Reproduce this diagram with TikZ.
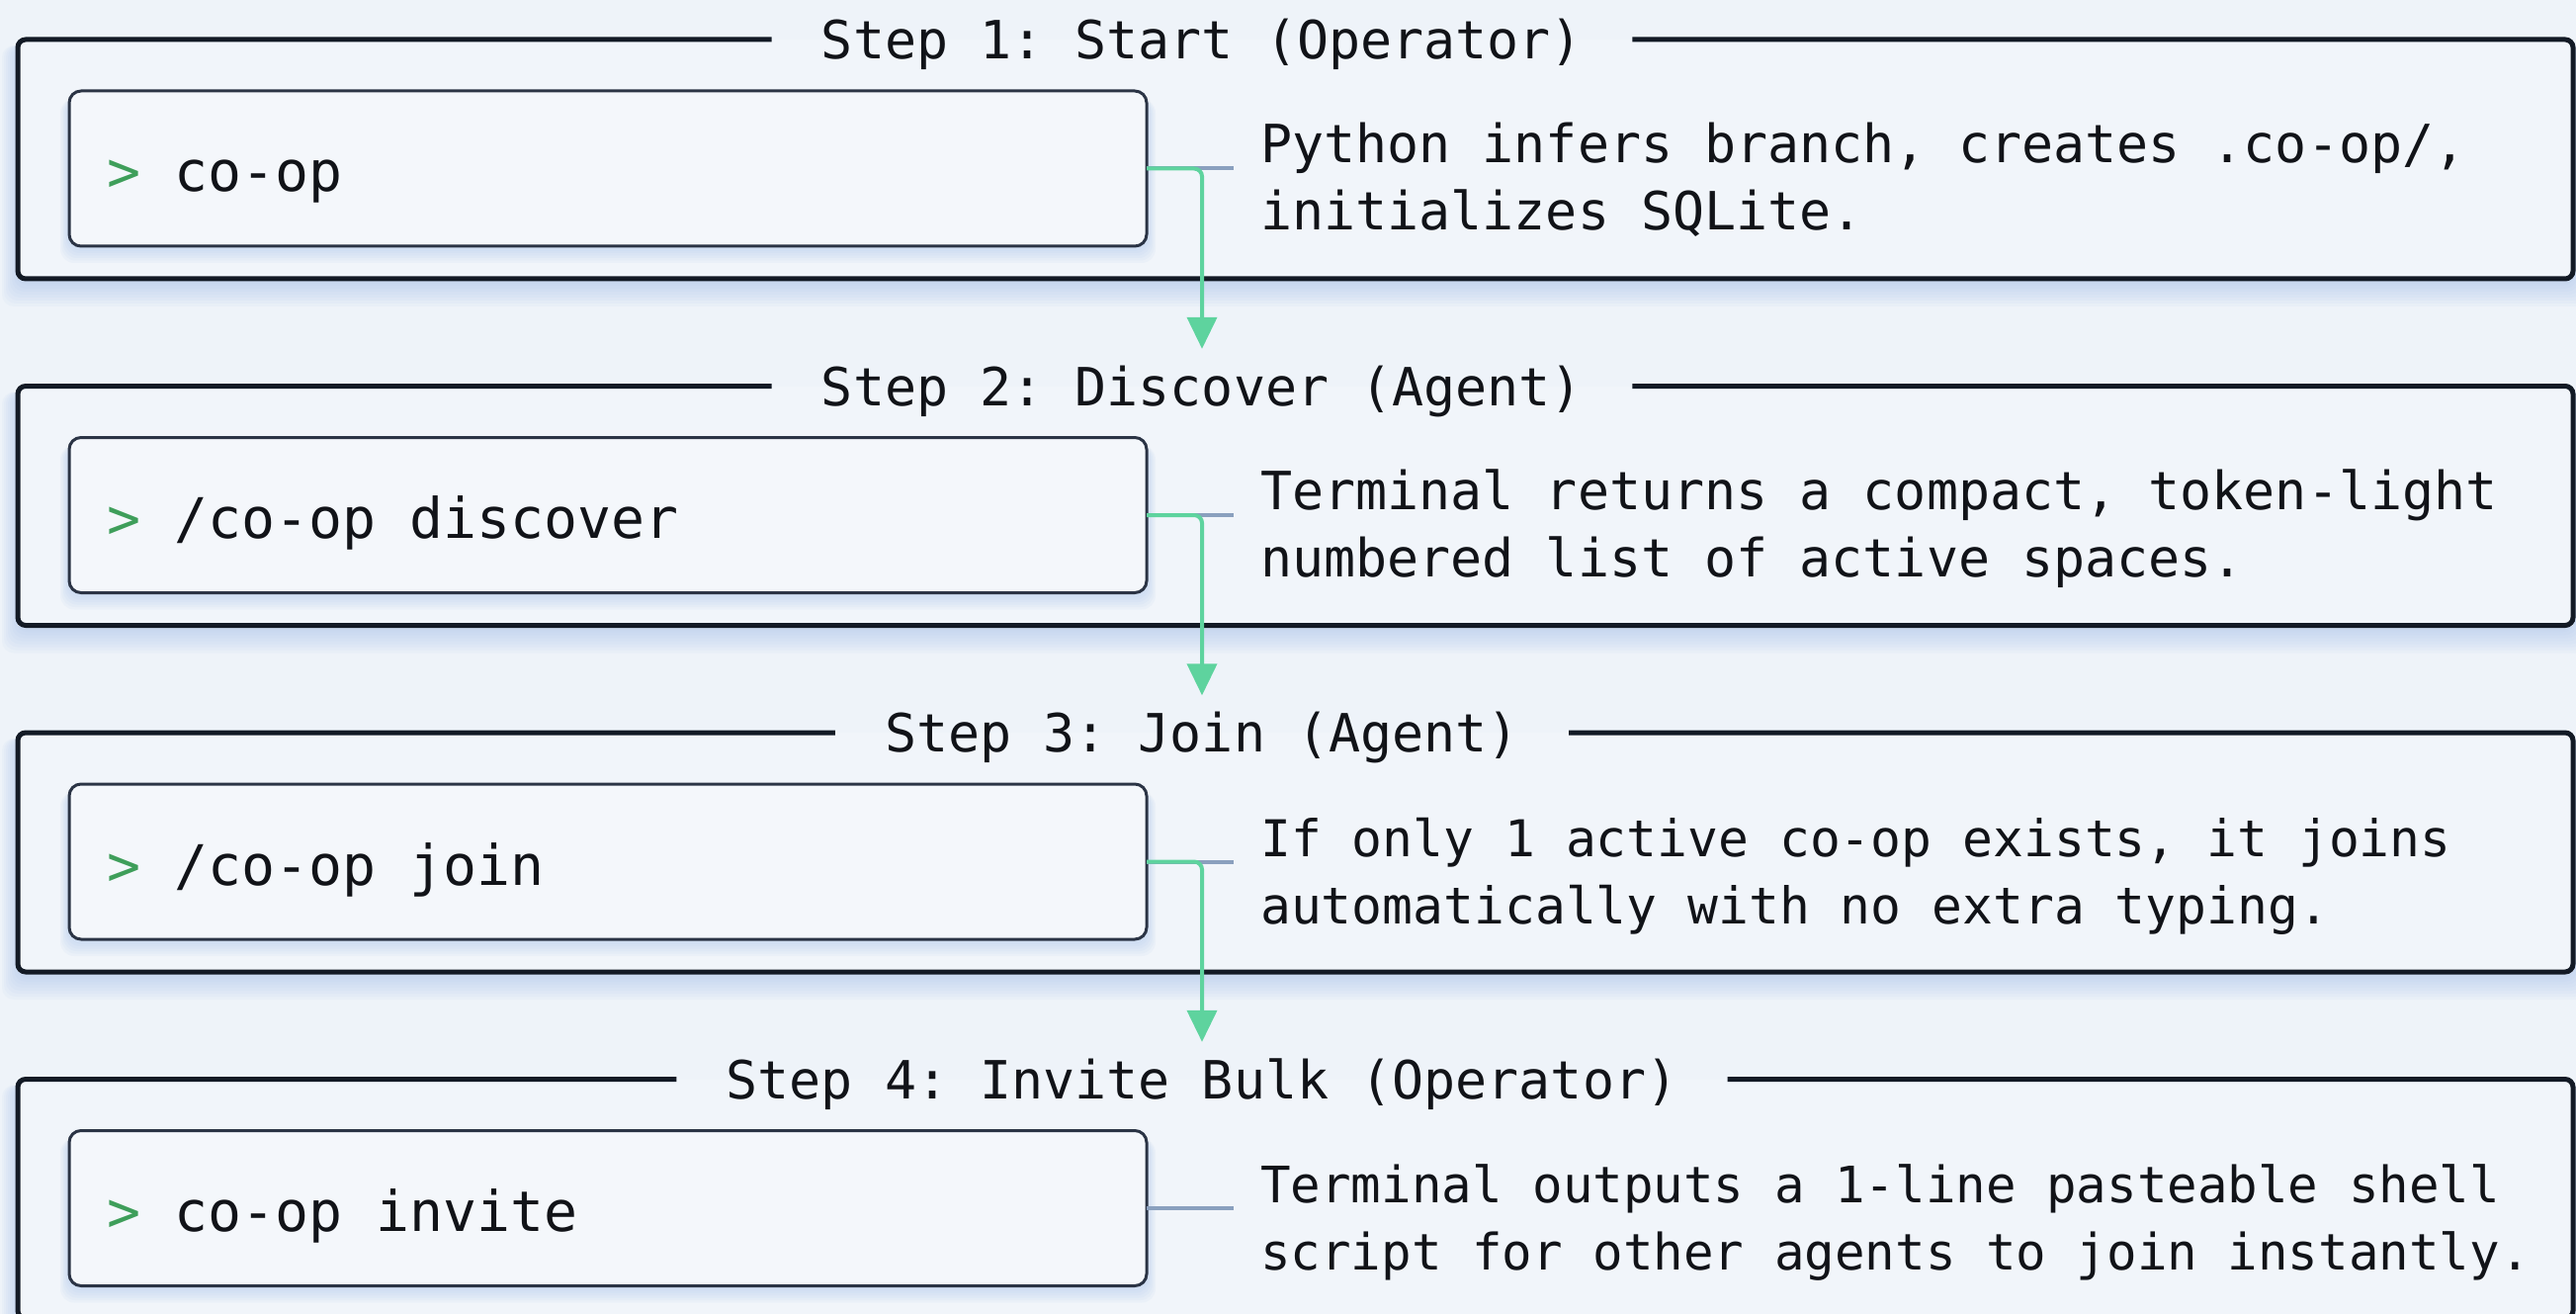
\documentclass[tikz,border=0pt]{standalone}
\usepackage{fontspec}
\setmonofont{DejaVu Sans Mono}
\usetikzlibrary{arrows.meta}

\definecolor{bgcol}{HTML}{EEF3F9}
\definecolor{framefill}{HTML}{F1F5FA}
\definecolor{cmdfill}{HTML}{F4F7FB}
\definecolor{framecol}{HTML}{131A25}
\definecolor{cmdcol}{HTML}{2B3445}
\definecolor{promptgreen}{HTML}{3E9E5A}
\definecolor{flowgreen}{HTML}{5ED39E}
\definecolor{stubcol}{HTML}{8AA0BE}
\definecolor{shadowcol}{HTML}{A9C4EC}
\definecolor{inkcol}{HTML}{111318}

\tikzset{
  frame/.style={inner sep=0pt, outer sep=0pt, fill=framefill,
    minimum width=2585pt, minimum height=242pt},
  framestroke/.style={draw=framecol, line width=5pt, rounded corners=8pt},
  titletext/.style={inner xsep=50pt, inner ysep=0pt, text height=39pt,
    text depth=0pt, text=inkcol,
    font=\ttfamily\fontsize{53.3}{64}\selectfont},
  cmdbox/.style={draw=cmdcol, line width=3pt, fill=cmdfill,
    rounded corners=12pt, inner sep=0pt, outer sep=0pt,
    minimum width=1090pt, minimum height=157pt},
  cmdtext/.style={inner sep=0pt, text=inkcol, anchor=base west,
    font=\ttfamily\fontsize{56.5}{68}\selectfont},
  desctext/.style={inner sep=0pt, text=inkcol, anchor=base west},
  stub/.style={draw=stubcol, line width=4pt},
  flow/.style={draw=flowgreen, line width=4pt, rounded corners=8pt,
    shorten >=18pt, -{Triangle[length=32pt,width=30pt]}},
}

% One step: index, top edge, title, command, two description lines,
% size of the description type
\newcommand\stepblock[7]{%
  \foreach \k in {1,...,8}{%
    \fill[shadowcol, opacity=0.08, rounded corners=12pt]
      (18-\k*2, #2+6) rectangle (2603+\k*2, #2+246+\k*3);}
  \node[frame] (f#1) at (1310.5, #2+121) {};
  \node[titletext] (t#1) at (1216, #2) {#3};
  \draw[framestroke] (t#1.west) -| (f#1.south west) -| (f#1.north east) -- (t#1.east);
  \foreach \k in {1,...,6}{%
    \fill[shadowcol, opacity=0.09, rounded corners=14pt]
      (70-\k*1.5, #2+60) rectangle (1160+\k*1.5, #2+211+\k*2.5);}
  \node[cmdbox] (c#1) at (615, #2+130.5) {};
  \node[cmdtext] (p#1) at (108, #2+154) {\textcolor{promptgreen}{>} #4};
  \node[desctext, font=\ttfamily\fontsize{#7}{68}\selectfont]
    (da#1) at (1275, #2+125) {#5};
  \node[desctext, font=\ttfamily\fontsize{#7}{68}\selectfont]
    (db#1) at (1275, #2+193) {#6};
  \coordinate (s#1) at (1248, #2+130.5);
  \draw[stub] (c#1.east) -- (s#1);
}

\begin{document}
\begin{tikzpicture}[x=1pt, y=-1pt]
  \fill[bgcol] (0,0) rectangle (2606,1329);
  \useasboundingbox (0,0) rectangle (2606,1329);

  \stepblock{1}{40}{Step 1: Start (Operator)}{co-op}
    {Python infers branch, creates .co-op/,}{initializes SQLite.}{53.3}
  \stepblock{2}{390.5}{Step 2: Discover (Agent)}{/co-op discover}
    {Terminal returns a compact, token-light}{numbered list of active spaces.}{53.3}
  \stepblock{3}{741}{Step 3: Join (Agent)}{/co-op join}
    {If only 1 active co-op exists, it joins}{automatically with no extra typing.}{51.3}
  \stepblock{4}{1091.5}{Step 4: Invite Bulk (Operator)}{co-op invite}
    {Terminal outputs a 1-line pasteable shell}{script for other agents to join instantly.}{50.8}

  % flow from each command down to the next step
  \draw[flow] (c1.east) -| (t2.north);
  \draw[flow] (c2.east) -| (t3.north);
  \draw[flow] (c3.east) -| (t4.north);
\end{tikzpicture}
\end{document}
